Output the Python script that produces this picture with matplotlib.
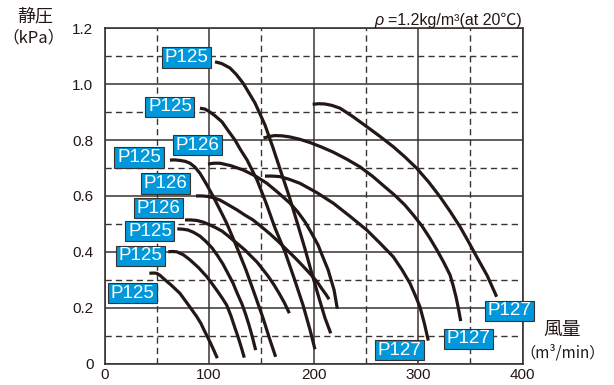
import numpy as np
import matplotlib.pyplot as plt
from matplotlib.patches import Rectangle
from matplotlib.ticker import MultipleLocator

plt.rcParams['font.family'] = ['Liberation Sans', 'Noto Sans CJK JP', 'DejaVu Sans']

# fan curves: flow (m3/min), static pressure (kPa)
a_x = [105.7, 112.0, 120.0, 126.0, 132.5, 143.9, 153.5, 161.2, 168.8, 176.5, 184.1, 191.8, 198.5, 205.2, 210.9, 216.4]
a_y = [1.080, 1.074, 1.058, 1.035, 1.004, 0.933, 0.854, 0.772, 0.686, 0.600, 0.507, 0.410, 0.320, 0.234, 0.163, 0.108]
b_x = [91.3, 96.0, 100.9, 106.0, 112.4, 118.0, 124.8, 130.0, 136.3, 145.9, 154.5, 163.1, 172.7, 181.3, 189.9, 196.6, 201.3]
b_y = [0.914, 0.911, 0.900, 0.886, 0.865, 0.835, 0.800, 0.766, 0.729, 0.657, 0.575, 0.485, 0.399, 0.306, 0.209, 0.120, 0.051]
c_x = [62.6, 67.0, 72.2, 77.0, 81.8, 86.5, 91.3, 97.5, 104.1, 110.5, 116.9, 126.4, 135.3, 143.9, 151.6, 158.3, 163.7]
c_y = [0.728, 0.729, 0.727, 0.724, 0.717, 0.703, 0.681, 0.642, 0.597, 0.550, 0.502, 0.418, 0.335, 0.245, 0.163, 0.084, 0.024]
d_x = [99.0, 104.5, 110.5, 121.0, 132.5, 144.0, 155.4, 166.0, 177.4, 185.0, 191.8, 198.0, 204.3, 209.0, 213.9, 219.6, 222.7]
d_y = [0.714, 0.717, 0.717, 0.708, 0.693, 0.672, 0.645, 0.612, 0.574, 0.542, 0.507, 0.467, 0.424, 0.380, 0.335, 0.263, 0.196]
h_x = [87.5, 93.0, 99.0, 104.5, 110.5, 118.0, 126.7, 134.0, 142.0, 150.0, 158.3, 166.5, 174.6, 181.0, 187.0, 193.0,
       199.4, 204.0, 208.0, 211.5, 214.8]
h_y = [0.600, 0.600, 0.598, 0.593, 0.585, 0.569, 0.550, 0.532, 0.514, 0.490, 0.464, 0.436, 0.406, 0.383, 0.360, 0.336,
       0.310, 0.289, 0.267, 0.249, 0.230]
i_x = [77.0, 82.5, 88.5, 94.5, 100.9, 106.5, 112.4, 117.5, 122.9, 128.5, 134.4, 140.0, 145.9, 151.0, 156.4, 161.7,
       166.9, 172.0, 176.8]
i_y = [0.514, 0.514, 0.512, 0.506, 0.496, 0.486, 0.474, 0.459, 0.442, 0.425, 0.406, 0.385, 0.363, 0.339, 0.313, 0.284,
       0.252, 0.218, 0.180]
j_x = [69.6, 74.5, 79.9, 85.5, 91.3, 97.0, 102.8, 108.0, 113.3, 118.0, 122.9, 127.0, 131.5, 135.0, 138.2, 141.5, 144.6]
j_y = [0.482, 0.481, 0.478, 0.469, 0.456, 0.437, 0.414, 0.387, 0.356, 0.323, 0.288, 0.251, 0.213, 0.176, 0.138, 0.094, 0.048]
k_x = [61.0, 65.0, 69.1, 75.5, 81.8, 90.0, 97.8, 103.0, 108.6, 112.8, 116.9, 121.0, 124.8, 127.3, 129.6, 131.7, 133.7]
k_y = [0.400, 0.401, 0.400, 0.389, 0.371, 0.343, 0.311, 0.285, 0.256, 0.233, 0.209, 0.170, 0.127, 0.100, 0.073, 0.047, 0.021]
l_x = [42.9, 46.5, 49.9, 53.0, 56.2, 64.0, 72.2, 80.0, 88.2, 92.0, 95.2, 98.0, 100.9, 104.5, 107.9]
l_y = [0.323, 0.324, 0.323, 0.316, 0.305, 0.280, 0.251, 0.211, 0.168, 0.145, 0.120, 0.099, 0.077, 0.048, 0.019]
g_x = [199.1, 205.0, 210.9, 217.5, 225.3, 237.5, 250.8, 263.5, 276.2, 287.5, 298.6, 310.0, 320.9, 330.5, 340.0, 348.0,
       356.0, 366.0, 375.1]
g_y = [0.928, 0.930, 0.929, 0.924, 0.914, 0.884, 0.848, 0.813, 0.776, 0.739, 0.699, 0.650, 0.597, 0.545, 0.490, 0.437,
       0.382, 0.315, 0.239]
e_x = [152.1, 157.6, 163.1, 170.0, 177.4, 186.5, 196.6, 207.5, 218.6, 231.5, 244.4, 256.5, 268.3, 278.0, 287.4, 295.5,
       303.7, 311.0, 318.0, 324.5, 330.5, 333.7, 336.5, 338.7, 340.7]
e_y = [0.807, 0.813, 0.816, 0.815, 0.811, 0.803, 0.791, 0.775, 0.757, 0.732, 0.704, 0.670, 0.632, 0.601, 0.567, 0.531,
       0.492, 0.450, 0.406, 0.362, 0.317, 0.276, 0.234, 0.193, 0.152]
f_x = [153.5, 160.5, 167.9, 177.0, 187.0, 203.0, 218.8, 234.8, 250.8, 263.5, 276.2, 284.5, 292.2, 297.0, 301.7, 306.0, 309.7]
f_y = [0.671, 0.671, 0.669, 0.659, 0.645, 0.612, 0.574, 0.527, 0.478, 0.431, 0.382, 0.336, 0.287, 0.246, 0.203, 0.143, 0.082]

curves = [(a_x, a_y), (b_x, b_y), (c_x, c_y), (d_x, d_y), (h_x, h_y), (i_x, i_y),
          (j_x, j_y), (k_x, k_y), (l_x, l_y), (g_x, g_y), (e_x, e_y), (f_x, f_y)]

# model tags and where their boxes sit
tag_names = ['P125', 'P125', 'P126', 'P125', 'P126', 'P126', 'P125', 'P125', 'P125',
             'P127', 'P127', 'P127']
tag_x = [78.4, 62.6, 89.0, 33.0, 58.7, 51.6, 43.5, 34.4, 27.1, 387.4, 347.7, 281.7]
tag_y = [1.096, 0.919, 0.782, 0.738, 0.644, 0.556, 0.474, 0.385, 0.252, 0.188, 0.088, 0.048]

x_ticks = [0, 100, 200, 300, 400]
y_ticks = [0, 0.2, 0.4, 0.6, 0.8, 1.0, 1.2]

fig = plt.figure(figsize=(6.14, 3.85), dpi=100)
ax = fig.add_axes([0.1702, 0.0558, 0.6811, 0.8707])
ax.set_xlim(0, 400)
ax.set_ylim(0, 1.2)

gc = '#3a3434'
ax.xaxis.set_major_locator(MultipleLocator(100))
ax.xaxis.set_minor_locator(MultipleLocator(50))
ax.yaxis.set_major_locator(MultipleLocator(0.2))
ax.yaxis.set_minor_locator(MultipleLocator(0.1))
ax.grid(which='major', color=gc, lw=1.1, ls='-')
ax.grid(which='minor', color=gc, lw=1.0, ls=(0, (4.5, 3)))
ax.set_xticks(x_ticks)
ax.set_xticklabels([str(v) for v in x_ticks])
ax.set_yticks(y_ticks)
ax.set_yticklabels(['0'] + ['%.1f' % v for v in y_ticks[1:]])
ax.tick_params(which='both', length=0, labelsize=11, colors='#231815')
ax.tick_params(axis='y', pad=8)
ax.tick_params(axis='x', pad=3)
for s in ax.spines.values():
    s.set_color(gc)
    s.set_linewidth(1.2)
ax.set_axisbelow(True)

for cx, cy in curves:
    ax.plot(cx, cy, color='#231815', lw=2.3, solid_capstyle='butt',
            solid_joinstyle='round', zorder=3)

bw, bh = 46.9, 0.0734
for name, tx, ty in zip(tag_names, tag_x, tag_y):
    ax.add_patch(Rectangle((tx - bw / 2, ty - bh / 2), bw, bh, facecolor='#0098da',
                           edgecolor='#333333', lw=0.8, zorder=5, clip_on=False))
    ax.text(tx, ty, name, ha='center', va='center', color='white', fontsize=13.5,
            family='Liberation Sans', zorder=6, clip_on=False)

fig.text(35 / 614, 1 - 16 / 385, '静圧', ha='center', va='center', fontsize=13,
         family='Noto Sans CJK JP', color='#231815')
fig.text(33 / 614, 1 - 38 / 385, '（kPa）', ha='center', va='center', fontsize=12,
         family='Noto Sans CJK JP', color='#231815')
fig.text(562.5 / 614, 1 - 329 / 385, '風量', ha='center', va='center', fontsize=13.5,
         family='Noto Sans CJK JP', color='#231815')
fig.text(563 / 614, 1 - 353 / 385, '（m³/min）', ha='center', va='center', fontsize=11,
         family='Noto Sans CJK JP', color='#231815')

t = fig.text(521.7 / 614, 1 - 20 / 385, '=1.2kg/m³(at 20℃)', ha='right', va='center',
             fontsize=11.5, color='#231815')
ax.annotate('ρ ', xy=(0, 0.5), xycoords=t, ha='right', va='center', fontsize=11.5,
            style='italic', color='#231815')

plt.savefig('out.png', dpi=100)
